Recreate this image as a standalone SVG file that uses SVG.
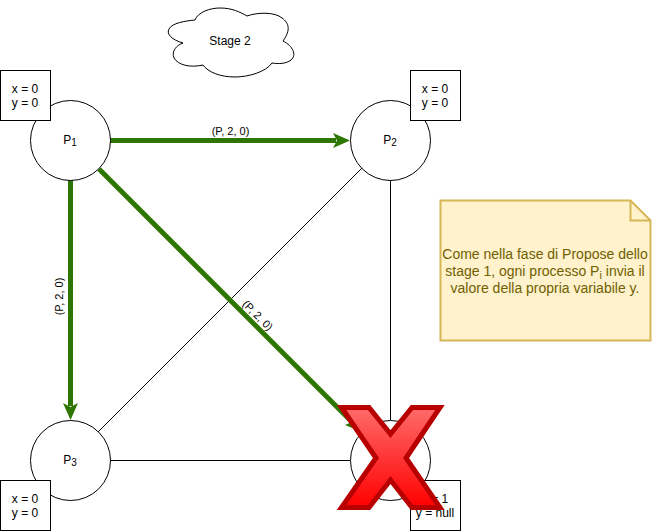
<svg xmlns="http://www.w3.org/2000/svg" width="652" height="531" viewBox="0 0 652 531">
<defs>
<style>
text{font-family:"Liberation Sans",Arial,sans-serif;fill:#000;text-anchor:middle;opacity:.999}
.c{fill:#fff;stroke:#000;stroke-width:1}
.b{fill:#fff;stroke:#000;stroke-width:1}
.t{font-size:12px}
.l{font-size:11px}
.s{font-size:10px}
.e{stroke:#000;stroke-width:1;fill:none}
.g{stroke:#2d7600;stroke-width:5;fill:none}
.n{fill:#6f6000;font-size:14px}
</style>
<linearGradient id="red" x1="0" y1="0" x2="0" y2="1"><stop offset="0" stop-color="#ff6b6b"/><stop offset="1" stop-color="#ff0000"/></linearGradient>
</defs>
<g id="connectors">
<path class="e" d="M362 168L98 432"/>
<path class="e" d="M390.500 180V420"/>
<path class="e" d="M110 460.500H350"/>
<path class="g" d="M110 140.500H336"/>
<path fill="#2d7600" d="M350 140.500L333 148L337 140.500L333 133Z"/>
<path class="g" d="M70.500 180V406"/>
<path fill="#2d7600" d="M70.500 420L63 403L70.500 407L78 403Z"/>
<path class="g" d="M99 169L351 421"/>
<path fill="#2d7600" d="M362 432L345 425L352 422L355 415Z"/>
<text class="l" x="230.500" y="135">(P, 2, 0)</text>
<text class="l" transform="translate(63,296.500) rotate(-90)">(P, 2, 0)</text>
<text class="l" transform="translate(255,318) rotate(45)">(P, 2, 0)</text>
</g>
<g id="p1"><circle class="c" cx="70.500" cy="140.500" r="40"/><text class="t" x="70" y="144">P<tspan class="s" dy="2">1</tspan></text></g>
<g id="p2"><circle class="c" cx="390.500" cy="140.500" r="40"/><text class="t" x="390" y="144">P<tspan class="s" dy="2">2</tspan></text></g>
<g id="p3"><circle class="c" cx="70.500" cy="460.500" r="40"/><text class="t" x="70" y="464">P<tspan class="s" dy="2">3</tspan></text></g>
<g id="p4"><circle class="c" cx="390.500" cy="460.500" r="40"/></g>
<g id="box1"><rect class="b" x="0.500" y="70.500" width="50" height="50"/><text class="t" x="25" y="93">x = 0</text><text class="t" x="25" y="107">y = 0</text></g>
<g id="box2"><rect class="b" x="410.500" y="70.500" width="50" height="50"/><text class="t" x="435" y="93">x = 0</text><text class="t" x="435" y="107">y = 0</text></g>
<g id="box3"><rect class="b" x="0.500" y="480.500" width="50" height="50"/><text class="t" x="25" y="503">x = 0</text><text class="t" x="25" y="517">y = 0</text></g>
<g id="box4"><rect class="b" x="410.500" y="480.500" width="50" height="50"/><text class="t" x="435" y="503">x = 1</text><text class="t" x="435" y="517">y = null</text></g>
<g id="cross"><path fill="url(#red)" stroke="#b80000" stroke-width="5" stroke-linejoin="miter" d="M341.500 407.500H369L390.500 434L412 407.500H440L406 458L440 507.500H412L390.500 480L369 507.500H341.500L376 458Z"/></g>
<g id="cloud"><path fill="#fff" stroke="#000" d="M195 20C198 12 210 8 220 8C232 8 240 12 247 16C258 12 275 12 282 18C289 23 291 30 283 41C293 46 297 55 291 60C286 64 278 64 272 63C266 72 248 77 235 77C220 77 208 72 203 65C190 68 178 65 174 58C171 51 177 45 183 43C172 40 166 34 169 29C172 23 185 21 195 20Z"/><text class="t" x="230" y="45">Stage 2</text></g>
<g id="note"><path fill="#fff2cc" stroke="#d6b656" stroke-width="2" d="M440.500 200.500H630.500L650.500 220.500V340.500H440.500Z"/><path fill="none" stroke="#d6b656" stroke-width="2" d="M630.500 200.500V220.500H650.500"/>
<text class="n" x="545" y="259">Come nella fase di Propose dello</text>
<text class="n" x="545" y="276">stage 1, ogni processo P<tspan font-size="11" dy="3">i</tspan><tspan dy="-3"> invia il</tspan></text>
<text class="n" x="545" y="293">valore della propria variabile y.</text></g>
</svg>
